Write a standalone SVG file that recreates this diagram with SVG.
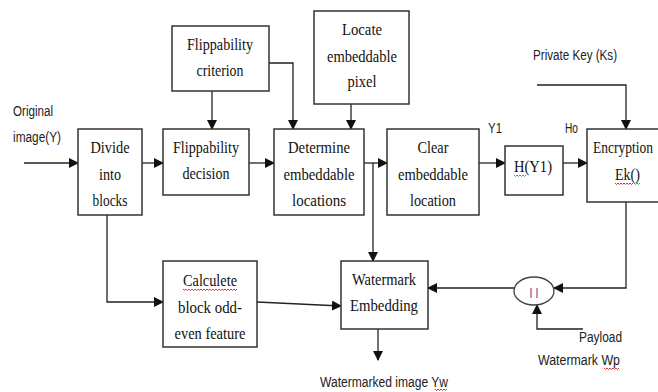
<svg xmlns="http://www.w3.org/2000/svg" width="658" height="392" viewBox="0 0 658 392">
<style>
.box{fill:#fff;stroke:#333;stroke-width:1.5}
.ln{fill:none;stroke:#222;stroke-width:1.3}
.t{font-family:"Liberation Serif","Times New Roman",serif;font-size:17px;fill:#111;text-anchor:middle}
.s{font-family:"Liberation Sans",Arial,sans-serif;font-size:14px;fill:#222}
.sq{fill:none;stroke-width:0.9}
</style>
<defs>
<marker id="ah" markerWidth="10" markerHeight="10" refX="9" refY="5" orient="auto" markerUnits="userSpaceOnUse">
<path d="M0,0 L10,5 L0,10 Z" fill="#111"/>
</marker>
</defs>
<rect width="658" height="392" fill="#fff"/>

<g id="connectors">
<path class="ln" d="M24,163 H78" marker-end="url(#ah)"/>
<path class="ln" d="M142,163 H163" marker-end="url(#ah)"/>
<path class="ln" d="M249,163 H274" marker-end="url(#ah)"/>
<path class="ln" d="M212,91 V129" marker-end="url(#ah)"/>
<path class="ln" d="M269,63 H293 V129" marker-end="url(#ah)"/>
<path class="ln" d="M351,104 V129" marker-end="url(#ah)"/>
<path class="ln" d="M364,163 H387" marker-end="url(#ah)"/>
<path class="ln" d="M373,163 V261" marker-end="url(#ah)"/>
<path class="ln" d="M479,163 H505" marker-end="url(#ah)"/>
<path class="ln" d="M563,163 H587" marker-end="url(#ah)"/>
<path class="ln" d="M537,85 H626 V129" marker-end="url(#ah)"/>
<path class="ln" d="M107,215 V302 H163" marker-end="url(#ah)"/>
<path class="ln" d="M257,302 L341,306" marker-end="url(#ah)"/>
<path class="ln" d="M626,202 V288 H554" marker-end="url(#ah)"/>
<path class="ln" d="M514,288 H428" marker-end="url(#ah)"/>
<path class="ln" d="M583,329 H537 V305" marker-end="url(#ah)"/>
<path class="ln" d="M378,329 V360" marker-end="url(#ah)"/>
</g>

<g id="input-label">
<text class="s" x="13" y="116" textLength="40" lengthAdjust="spacingAndGlyphs">Original</text>
<text class="s" x="13" y="142" textLength="48" lengthAdjust="spacingAndGlyphs">image(Y)</text>
</g>

<g id="divide">
<rect class="box" x="78" y="129" width="64" height="86"/>
<text class="t" x="110" y="153" textLength="39" lengthAdjust="spacingAndGlyphs">Divide</text>
<text class="t" x="110" y="180" textLength="22" lengthAdjust="spacingAndGlyphs">into</text>
<text class="t" x="110" y="206" textLength="35" lengthAdjust="spacingAndGlyphs">blocks</text>
</g>

<g id="criterion">
<rect class="box" x="172" y="26" width="97" height="65"/>
<text class="t" x="220" y="50" textLength="66" lengthAdjust="spacingAndGlyphs">Flippability</text>
<text class="t" x="220" y="76" textLength="47" lengthAdjust="spacingAndGlyphs">criterion</text>
</g>

<g id="decision">
<rect class="box" x="163" y="129" width="86" height="66"/>
<text class="t" x="206" y="153" textLength="66" lengthAdjust="spacingAndGlyphs">Flippability</text>
<text class="t" x="206" y="179" textLength="47" lengthAdjust="spacingAndGlyphs">decision</text>
</g>

<g id="locate">
<rect class="box" x="314" y="11" width="95" height="93"/>
<text class="t" x="362" y="35" textLength="40" lengthAdjust="spacingAndGlyphs">Locate</text>
<text class="t" x="362" y="62" textLength="70" lengthAdjust="spacingAndGlyphs">embeddable</text>
<text class="t" x="362" y="87" textLength="29" lengthAdjust="spacingAndGlyphs">pixel</text>
</g>

<g id="determine">
<rect class="box" x="274" y="129" width="90" height="86"/>
<text class="t" x="319" y="153" textLength="62" lengthAdjust="spacingAndGlyphs">Determine</text>
<text class="t" x="319" y="180" textLength="71" lengthAdjust="spacingAndGlyphs">embeddable</text>
<text class="t" x="319" y="206" textLength="54" lengthAdjust="spacingAndGlyphs">locations</text>
</g>

<g id="clear">
<rect class="box" x="387" y="129" width="92" height="86"/>
<text class="t" x="433" y="153" textLength="31" lengthAdjust="spacingAndGlyphs">Clear</text>
<text class="t" x="433" y="180" textLength="70" lengthAdjust="spacingAndGlyphs">embeddable</text>
<text class="t" x="433" y="206" textLength="46" lengthAdjust="spacingAndGlyphs">location</text>
</g>

<g id="hash">
<rect class="box" x="505" y="146" width="58" height="49"/>
<text class="t" x="533" y="172" textLength="38" lengthAdjust="spacingAndGlyphs">H(Y1)</text>
<path class="sq" stroke="#3a9a3a" d="M514,175 l1.5,1.5 l1.5,-1.5 l1.5,1.5 l1.5,-1.5 l1.5,1.5 l1.5,-1.5 l1.5,1.5 l1.5,-1.5"/>
</g>

<g id="encryption">
<rect class="box" x="587" y="129" width="80" height="73"/>
<text class="t" x="593" y="153" style="text-anchor:start" textLength="60" lengthAdjust="spacingAndGlyphs">Encryption</text>
<text class="t" x="615" y="180" style="text-anchor:start" textLength="25" lengthAdjust="spacingAndGlyphs">Ek()</text>
<path class="sq" stroke="#d02020" d="M615,183 l1.5,1.5 l1.5,-1.5 l1.5,1.5 l1.5,-1.5 l1.5,1.5 l1.5,-1.5 l1.5,1.5 l1.5,-1.5 l1.5,1.5 l1.5,-1.5 l1.5,1.5 l1.5,-1.5"/>
<path class="sq" stroke="#3a9a3a" d="M634,183 l1.5,1.5 l1.5,-1.5 l1.5,1.5 l1.5,-1.5"/>
</g>

<g id="labels-top">
<text class="s" x="533" y="60" textLength="84" lengthAdjust="spacingAndGlyphs">Private Key (Ks)</text>
<text class="s" x="488" y="133" textLength="14" lengthAdjust="spacingAndGlyphs">Y1</text>
<text class="s" x="565" y="133" textLength="13" lengthAdjust="spacingAndGlyphs">Ho</text>
</g>

<g id="calculate">
<rect class="box" x="163" y="261" width="94" height="86"/>
<text class="t" x="210" y="286" textLength="54" lengthAdjust="spacingAndGlyphs">Calculete</text>
<path class="sq" stroke="#d02020" d="M183,289 l1.5,1.5 l1.5,-1.5 l1.5,1.5 l1.5,-1.5 l1.5,1.5 l1.5,-1.5 l1.5,1.5 l1.5,-1.5 l1.5,1.5 l1.5,-1.5 l1.5,1.5 l1.5,-1.5 l1.5,1.5 l1.5,-1.5 l1.5,1.5 l1.5,-1.5 l1.5,1.5 l1.5,-1.5 l1.5,1.5 l1.5,-1.5 l1.5,1.5 l1.5,-1.5 l1.5,1.5 l1.5,-1.5 l1.5,1.5 l1.5,-1.5 l1.5,1.5 l1.5,-1.5 l1.5,1.5 l1.5,-1.5 l1.5,1.5 l1.5,-1.5 l1.5,1.5 l1.5,-1.5 l1.5,1.5 l1.5,-1.5"/>
<text class="t" x="210" y="313" textLength="64" lengthAdjust="spacingAndGlyphs">block odd-</text>
<text class="t" x="210" y="339" textLength="71" lengthAdjust="spacingAndGlyphs">even feature</text>
</g>

<g id="watermark">
<rect class="box" x="341" y="261" width="87" height="68"/>
<text class="t" x="384" y="285" textLength="64" lengthAdjust="spacingAndGlyphs">Watermark</text>
<text class="t" x="384" y="311" textLength="68" lengthAdjust="spacingAndGlyphs">Embedding</text>
</g>

<g id="concat">
<ellipse cx="534" cy="291" rx="20" ry="14" fill="#fff" stroke="#444" stroke-width="1.3"/>
<text x="534" y="296" style="font-family:'Liberation Sans',Arial,sans-serif;font-size:11px;fill:#3c2f86;text-anchor:middle">| |</text>
</g>

<g id="labels-bottom">
<text class="s" x="579" y="342" textLength="43" lengthAdjust="spacingAndGlyphs">Payload</text>
<text class="s" x="538" y="365" textLength="82" lengthAdjust="spacingAndGlyphs">Watermark Wp</text>
<path class="sq" stroke="#d02020" d="M604,368 l1.5,1.5 l1.5,-1.5 l1.5,1.5 l1.5,-1.5 l1.5,1.5 l1.5,-1.5 l1.5,1.5 l1.5,-1.5 l1.5,1.5 l1.5,-1.5"/>
<text class="s" x="320" y="387" textLength="128" lengthAdjust="spacingAndGlyphs">Watermarked image Yw</text>
<path class="sq" stroke="#d02020" d="M435,389 l1.5,1.5 l1.5,-1.5 l1.5,1.5 l1.5,-1.5 l1.5,1.5 l1.5,-1.5 l1.5,1.5 l1.5,-1.5"/>
</g>
</svg>
